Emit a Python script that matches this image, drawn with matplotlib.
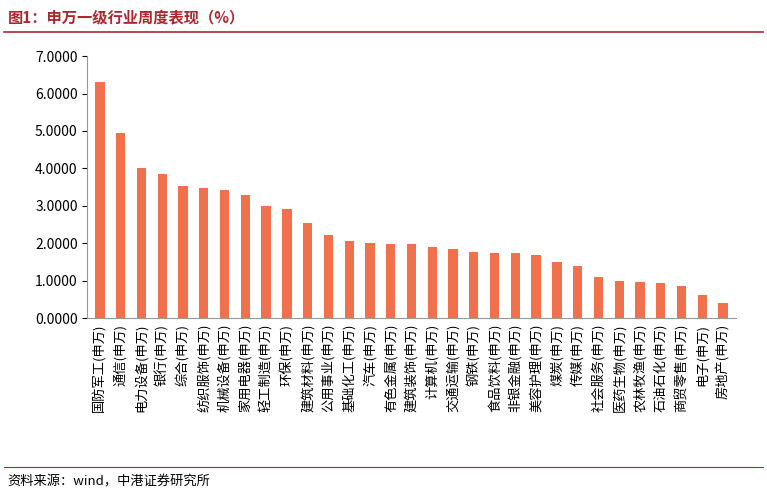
import matplotlib.pyplot as plt
from matplotlib.ticker import FormatStrFormatter

plt.rcParams['font.family'] = ['Noto Sans CJK SC', 'DejaVu Sans']

industries = ['国防军工', '通信', '电力设备', '银行', '综合', '纺织服饰', '机械设备', '家用电器',
              '轻工制造', '环保', '建筑材料', '公用事业', '基础化工', '汽车', '有色金属', '建筑装饰',
              '计算机', '交通运输', '钢铁', '食品饮料', '非银金融', '美容护理', '煤炭', '传媒',
              '社会服务', '医药生物', '农林牧渔', '石油石化', '商贸零售', '电子', '房地产']
labels = [n + '(申万)' for n in industries]
values = [6.30, 4.94, 4.01, 3.85, 3.53, 3.47, 3.42, 3.29, 2.99, 2.91, 2.54, 2.22, 2.06, 2.00,
          1.98, 1.98, 1.90, 1.84, 1.76, 1.74, 1.74, 1.68, 1.50, 1.39, 1.10, 0.99, 0.96, 0.94,
          0.86, 0.61, 0.40]

fig = plt.figure(figsize=(7.67, 4.97), dpi=100)
ax = fig.add_axes([0.114, 0.36, 0.845, 0.527])
ax.bar(range(len(values)), values, width=0.45, color='#F0714B')
ax.set_xlim(-0.6, len(values) - 0.4)
ax.set_ylim(0, 7)
ax.set_yticks([0, 1, 2, 3, 4, 5, 6, 7])
ax.yaxis.set_major_formatter(FormatStrFormatter('%.4f'))
ax.set_xticks(range(len(values)))
ax.set_xticklabels(labels, rotation=90, fontsize=9.5)
ax.tick_params(axis='x', length=0, pad=4)
ax.tick_params(axis='y', labelsize=10)
for s in ['top', 'right']:
    ax.spines[s].set_visible(False)
ax.spines['bottom'].set_color('#999999')
ax.spines['left'].set_color('#999999')

# title and source
fig.text(0.01, 0.965, '图1：申万一级行业周度表现（%）', color='#B0262E', fontsize=11,
         fontweight='bold', va='center')
fig.add_artist(plt.Line2D([0.005, 0.995], [0.935, 0.935], color='#B0262E', lw=1.2))
fig.add_artist(plt.Line2D([0.005, 0.995], [0.06, 0.06], color='#B0262E', lw=0.8))
fig.text(0.01, 0.03, '资料来源：wind，中港证券研究所', fontsize=9.5, style='italic',
         va='center')

fig.savefig('out.png')
